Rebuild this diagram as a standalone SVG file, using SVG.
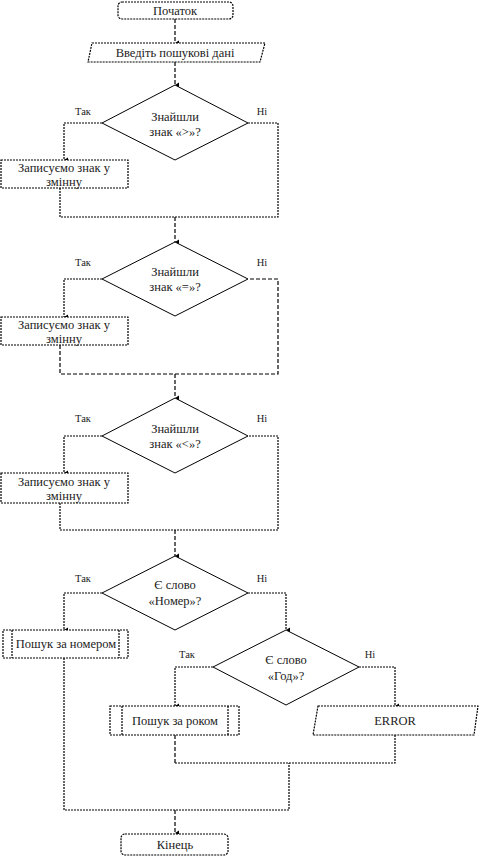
<svg xmlns="http://www.w3.org/2000/svg" width="480" height="859" viewBox="0 0 480 859" font-family="'Liberation Serif','DejaVu Serif',serif">
<defs>
<marker id="arr" markerWidth="6" markerHeight="6" refX="3" refY="5" orient="auto" markerUnits="userSpaceOnUse">
<path d="M0.5,1 L3,5 L5.5,1 Z" fill="#000"/>
</marker>
<style>
text{font-family:"Liberation Serif","DejaVu Serif",serif;font-size:12.5px;fill:#222;text-anchor:middle}
.box{fill:#fff;stroke:#000;stroke-width:1.2;stroke-dasharray:2,1}
.dia{fill:#fff;stroke:#000;stroke-width:1}
.v{fill:none;stroke:#000;stroke-width:1.2;stroke-dasharray:4,2}
.h{fill:none;stroke:#000;stroke-width:1.2;stroke-dasharray:2,1}
text.lbl{font-size:10.5px}
</style>
</defs>
<rect width="480" height="859" fill="#fff"/>

<g id="connectors">
<line class="v" x1="175" y1="19" x2="175" y2="43" marker-end="url(#arr)"/>
<line class="v" x1="175" y1="62" x2="175" y2="85" marker-end="url(#arr)"/>
<polyline class="h" points="102,123 64,123 64,160" marker-end="url(#arr)"/>
<polyline class="h" points="60,188 60,217 278,217 278,123 248,123"/>
<line class="v" x1="175" y1="217" x2="175" y2="242" marker-end="url(#arr)"/>
<polyline class="h" points="102,279 64,279 64,317" marker-end="url(#arr)"/>
<polyline class="v" points="60,345 60,374 278,374 278,279 248,279"/>
<line class="v" x1="175" y1="374" x2="175" y2="398" marker-end="url(#arr)"/>
<polyline class="h" points="102,436 64,436 64,473" marker-end="url(#arr)"/>
<polyline class="h" points="60,503 60,530 278,530 278,436 248,436"/>
<line class="v" x1="175" y1="530" x2="175" y2="556" marker-end="url(#arr)"/>
<polyline class="h" points="102,593 64,593 64,630" marker-end="url(#arr)"/>
<polyline class="h" points="248,593 286,593 286,630" marker-end="url(#arr)"/>
<polyline class="h" points="213,667 175,667 175,706" marker-end="url(#arr)"/>
<polyline class="h" points="359,667 395,667 395,706" marker-end="url(#arr)"/>
<line class="v" x1="175" y1="735" x2="175" y2="763"/>
<polyline class="h" points="175,763 395,763 395,735"/>
<polyline class="h" points="64,658 64,810 289,810 289,763"/>
<line class="v" x1="175" y1="810" x2="175" y2="833" marker-end="url(#arr)"/>
</g>

<g id="start">
<rect class="box" x="118" y="2" width="115" height="17" rx="4"/>
<text x="175" y="14.5">Початок</text>
</g>
<g id="input">
<polygon class="box" points="92,43 265,43 260,62 88,62"/>
<text x="175" y="56.5">Введіть пошукові дані</text>
</g>

<g id="dec1">
<polygon class="dia" points="175,85 248,123 175,160 102,123"/>
<text x="175" y="121">Знайшли</text>
<text x="175" y="136">знак «&gt;»?</text>
<text class="lbl" x="83" y="115">Так</text>
<text class="lbl" x="262" y="115">Ні</text>
</g>
<g id="proc1">
<rect class="box" x="1" y="160" width="127" height="28"/>
<text x="64" y="172">Записуємо знак у</text>
<text x="64" y="186">змінну</text>
</g>

<g id="dec2">
<polygon class="dia" points="175,242 248,279 175,316 102,279"/>
<text x="175" y="276">Знайшли</text>
<text x="175" y="291">знак «=»?</text>
<text class="lbl" x="83" y="266">Так</text>
<text class="lbl" x="262" y="266">Ні</text>
</g>
<g id="proc2">
<rect class="box" x="1" y="317" width="127" height="28"/>
<text x="64" y="329">Записуємо знак у</text>
<text x="64" y="343">змінну</text>
</g>

<g id="dec3">
<polygon class="dia" points="175,398 248,436 175,473 102,436"/>
<text x="175" y="433">Знайшли</text>
<text x="175" y="448">знак «&lt;»?</text>
<text class="lbl" x="83" y="422">Так</text>
<text class="lbl" x="262" y="422">Ні</text>
</g>
<g id="proc3">
<rect class="box" x="1" y="473" width="127" height="30"/>
<text x="64" y="486">Записуємо знак у</text>
<text x="64" y="500">змінну</text>
</g>

<g id="dec4">
<polygon class="dia" points="175,556 248,593 175,630 102,593"/>
<text x="175" y="589">Є слово</text>
<text x="175" y="605">«Номер»?</text>
<text class="lbl" x="83" y="582">Так</text>
<text class="lbl" x="262" y="582">Ні</text>
</g>
<g id="search-number">
<rect class="box" x="3" y="630" width="125" height="28"/>
<line class="h" x1="12" y1="630" x2="12" y2="658"/>
<line class="h" x1="119" y1="630" x2="119" y2="658"/>
<text x="66" y="648">Пошук за номером</text>
</g>

<g id="dec5">
<polygon class="dia" points="286,630 359,667 286,705 213,667"/>
<text x="286" y="664">Є слово</text>
<text x="286" y="680">«Год»?</text>
<text class="lbl" x="187" y="658">Так</text>
<text class="lbl" x="370" y="658">Ні</text>
</g>
<g id="search-year">
<rect class="box" x="110" y="706" width="129" height="29"/>
<line class="h" x1="122" y1="706" x2="122" y2="735"/>
<line class="h" x1="228" y1="706" x2="228" y2="735"/>
<text x="175" y="724.5">Пошук за роком</text>
</g>
<g id="error">
<polygon class="box" points="318,706 478,706 474,735 313,735"/>
<text x="395" y="724.5">ERROR</text>
</g>

<g id="end">
<rect class="box" x="121" y="834" width="107" height="21" rx="4"/>
<text x="175" y="848.5">Кінець</text>
</g>
</svg>
